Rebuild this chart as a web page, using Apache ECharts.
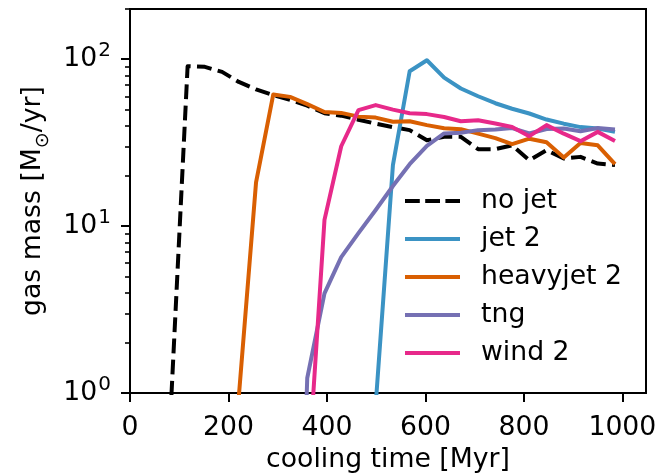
<!DOCTYPE html>
<html>
<head>
    <title>Gas mass vs cooling time</title>
    <script src="https://cdn.jsdelivr.net/npm/echarts@6.0.0/dist/echarts.min.js"></script>
</head>
<body style="margin:0">
    <div id="chart" style="width: 669px; height: 475px;"></div>
    <script>
        // cooling time grid shared by all runs [Myr]
        var times = [82, 117, 152, 187, 221, 256, 291, 325, 360, 395, 429, 464, 499, 534,
                     568, 603, 638, 672, 707, 742, 776, 811, 846, 881, 915, 950, 985];

        // gas mass [Msun/yr], null = not in the run yet
        var noJet = [0.72, 90.8, 90, 84, 73.1, 65.9, 60.9, 57.2, 52.7, 47.5, 45.9, 43.4, 41.1, 39.2,
                     37.6, 32.7, 34.3, 34.3, 28.9, 28.9, 30.5, 24.8, 28.5, 25.4, 26.0, 23.7, 23.2];
        var jet2 = [null, null, null, null, null, null, null, null, null, null, null, null, 0.85, 23.2,
                    84.7, 98.6, 77.6, 66.8, 60.0, 54.5, 50.5, 47.3, 43.5, 41.1, 39.2, 38.5, 36.7];
        var heavyJet2 = [null, null, null, null, 0.95, 18.3, 61.5, 59.5, 53.8, 48.3, 47.7, 45.3, 44.7, 42.2,
                         42.5, 40.3, 38.6, 38.1, 35.8, 33.7, 31.0, 33.4, 31.8, 25.8, 31.5, 30.5, 23.5];
        var tng = [null, null, null, null, null, null, null, 0.001, 1.23, 3.95, 6.52, 9.08, 12.5, 17.4,
                   23.5, 30.3, 35.9, 36.3, 37.6, 37.9, 38.7, 35.9, 38.2, 38.5, 37.0, 38.7, 37.9];
        var wind2 = [null, null, null, null, null, null, null, null, 0.27, 10.9, 30.1, 49.5, 53.1, 49.9,
                     47.5, 46.9, 45.1, 42.5, 43.1, 41.2, 39.3, 34.6, 40.3, 35.8, 32.3, 36.7, 32.4];

        var xTicks = [0, 200, 400, 600, 800, 1000];
        var yMajorTicks = [1, 10, 100];
        var yExponents = ['0', '1', '2'];
        var yMinorTicks = [2, 3, 4, 5, 6, 7, 8, 9, 20, 30, 40, 50, 60, 70, 80, 90, 200];

        var font = 'DejaVu Sans';
        var fs = 26.7;

        function pairs(vals) {
            var out = [];
            vals.forEach(function (v, i) {
                if (v !== null) out.push([times[i], v]);
            });
            return out;
        }

        function line(name, vals, color, dashed) {
            return {
                name: name,
                type: 'line',
                data: pairs(vals),
                symbol: 'none',
                clip: true,
                lineStyle: {color: color, width: 4, type: dashed ? [14.8, 6.4] : 'solid', join: 'round'},
                itemStyle: {color: color}
            };
        }

        // legend handles drawn as plain strokes, like matplotlib
        var solidIcon = 'rect';
        var dashIcon = 'path://M0,0h14.8v4h-14.8z M20.2,0h14.8v4h-14.8z M40.4,0h14.6v4h-14.6z';

        var chart = echarts.init(document.querySelector("#chart"));

        var option = {
            animation: false,
            textStyle: {fontFamily: font},
            grid: {left: 130, right: 23, top: 9, bottom: 82, show: true, outerBoundsMode: 'none',
                   borderColor: '#000', borderWidth: 2, backgroundColor: 'transparent'},
            legend: {
                orient: 'vertical',
                left: 405, top: 186, padding: 0,
                itemWidth: 55, itemHeight: 4, itemGap: 8,
                textStyle: {fontFamily: font, fontSize: fs, color: '#000', lineHeight: 30, padding: [0, 0, 0, 16]},
                data: [
                    {name: 'no jet', icon: dashIcon},
                    {name: 'jet 2', icon: solidIcon},
                    {name: 'heavyjet 2', icon: solidIcon},
                    {name: 'tng', icon: solidIcon},
                    {name: 'wind 2', icon: solidIcon}
                ]
            },
            xAxis: {
                type: 'value', min: 0, max: 1048,
                name: 'cooling time [Myr]', nameLocation: 'middle', nameGap: 54,
                nameTextStyle: {fontFamily: font, fontSize: fs, color: '#000'},
                axisLine: {show: true, lineStyle: {color: '#000', width: 2}},
                axisTick: {show: true, length: 9, customValues: xTicks, lineStyle: {color: '#000', width: 2}},
                axisLabel: {
                    customValues: xTicks, margin: 22, fontFamily: font, fontSize: fs, color: '#000',
                    formatter: function (v) { return String(v); }
                },
                splitLine: {show: false}
            },
            yAxis: [{
                type: 'log', logBase: 10, min: 1, max: 200, position: 'left',
                name: '{n|gas mass [M}{s|⊙}{n|/yr]}', nameLocation: 'middle', nameGap: 78, nameRotate: 90,
                nameTextStyle: {
                    fontFamily: font, fontSize: fs, color: '#000',
                    rich: {
                        n: {fontFamily: font, fontSize: fs, color: '#000'},
                        s: {fontFamily: font, fontSize: 19, color: '#000', verticalAlign: 'bottom', padding: [0, 0, -6, 0]}
                    }
                },
                axisLine: {show: true, lineStyle: {color: '#000', width: 2}},
                axisTick: {show: true, length: 9, customValues: yMajorTicks, lineStyle: {color: '#000', width: 2}},
                axisLabel: {
                    customValues: yMajorTicks, margin: 19,
                    formatter: function (v) {
                        var i = yMajorTicks.indexOf(v);
                        return '{b|10}{s|' + yExponents[i] + '}';
                    },
                    rich: {
                        b: {fontFamily: font, fontSize: fs, color: '#000', lineHeight: 36},
                        s: {fontFamily: font, fontSize: 20, color: '#000', verticalAlign: 'top', lineHeight: 20, padding: [0, 0, 0, 1]}
                    }
                },
                splitLine: {show: false}
            }, {
                type: 'log', logBase: 10, min: 1, max: 200, position: 'left', offset: 0,
                axisLine: {show: false},
                axisTick: {show: true, length: 5, customValues: yMinorTicks, lineStyle: {color: '#000', width: 1.6}},
                axisLabel: {show: false},
                splitLine: {show: false}
            }],
            series: [
                line('no jet', noJet, '#000000', true),
                line('jet 2', jet2, '#3b93c4', false),
                line('heavyjet 2', heavyJet2, '#d95f02', false),
                line('tng', tng, '#7570b3', false),
                line('wind 2', wind2, '#e7298a', false)
            ]
        };
        chart.setOption(option);
    </script>
</body>
</html>
